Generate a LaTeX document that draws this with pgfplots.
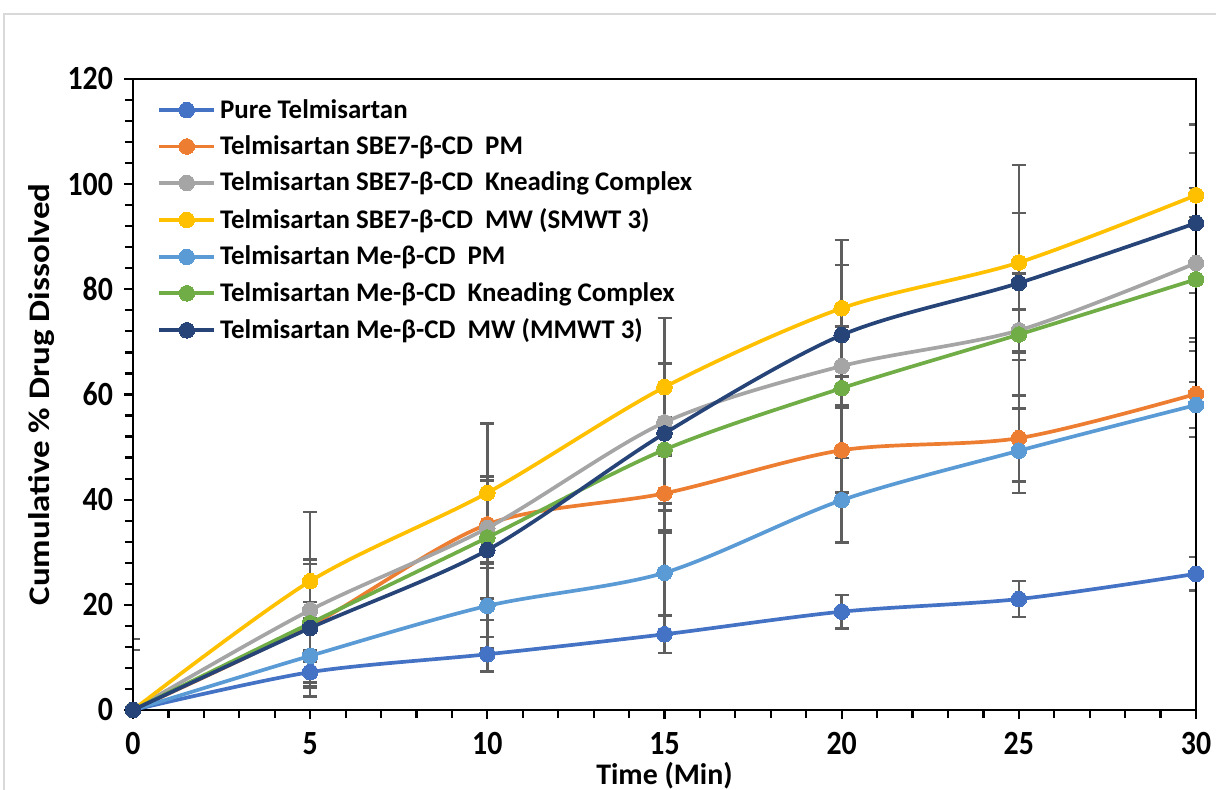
\documentclass[border=0pt]{standalone}
\usepackage{fontspec}
\setmainfont{Carlito}
\newfontfamily\tickfont{Carlito}[FakeStretch=0.88]
\newfontfamily\ylabfont{Carlito}[FakeStretch=1.17]
\usepackage{pgfplots}
\usepackage{pgfplotstable}
\pgfplotsset{compat=1.18}
\definecolor{cBlue}{HTML}{4472C4}
\definecolor{cOrange}{HTML}{ED7D31}
\definecolor{cGrey}{HTML}{A5A5A5}
\definecolor{cYellow}{HTML}{FFC000}
\definecolor{cLBlue}{HTML}{5B9BD5}
\definecolor{cGreen}{HTML}{70AD47}
\definecolor{cNavy}{HTML}{264478}
\definecolor{errgray}{HTML}{5E5E5E}
\definecolor{framegray}{HTML}{D9D9D9}

\pgfplotstableread{
x  y1   e1  y2   e2   y3   e3   y4   e4   y5   e5  y6   e6   y7   e7
0  0    0   0    0    0    11.4 0    13.5 0    0   0    0    0    0
5  7.2  2.0 16.0 11.8 19.0 1.5  24.5 13.2 10.3 5.2 16.5 12.0 15.6 13.0
10 10.6 3.3 35.3 8.3  34.6 1.0  41.3 13.2 19.8 8.1 32.8 11.6 30.4 13.3
15 14.4 3.6 41.2 7.5  54.7 1.0  61.4 13.1 26.1 8.0 49.5 11.6 52.6 13.3
20 18.7 3.2 49.4 8.0  65.4 7.5  76.4 13.0 39.9 8.0 61.2 11.6 71.3 13.3
25 21.1 3.4 51.7 8.2  72.2 4.0  85.1 18.5 49.3 8.0 71.4 11.6 81.2 13.3
30 25.9 3.2 60.1 8.2  85.0 14.3 97.9 13.4 58.0 4.4 81.9 11.9 92.6 13.3
}\data

\pgfplotsset{
  base/.style={at={(0,0)}, anchor=south west,
    scale only axis, width=531.5bp, height=315.5bp,
    xmin=0, xmax=30, ymin=0, ymax=120},
  errplot/.style={draw=none, mark=none,
    error bars/.cd, y dir=both, y explicit,
    error bar style={draw=errgray, line width=1.25bp, solid},
    error mark options={draw=errgray, line width=1.25bp, mark size=3.5bp, rotate=90}},
  ser/.style={color=#1, line width=1.85bp, smooth, tension=0.5, mark=*, mark size=3.9bp,
    mark options={fill=#1, draw=#1, line width=0pt}},
}

\begin{document}
\begin{tikzpicture}
\useasboundingbox (-66.5bp,-40bp) rectangle (541.5bp,355bp);
\draw[framegray, line width=1.2bp] (-64.5bp,-45bp) -- (-64.5bp,348bp) -- (545bp,348bp);
\begin{axis}[base, hide axis, clip=true]
\addplot[errplot] table[x=x, y=y1, y error=e1] {\data};
\addplot[errplot] table[x=x, y=y2, y error=e2] {\data};
\addplot[errplot] table[x=x, y=y3, y error=e3] {\data};
\addplot[errplot] table[x=x, y=y4, y error=e4] {\data};
\addplot[errplot] table[x=x, y=y5, y error=e5] {\data};
\addplot[errplot] table[x=x, y=y6, y error=e6] {\data};
\addplot[errplot] table[x=x, y=y7, y error=e7] {\data};
\end{axis}
\begin{axis}[
  base,
  xtick={0,5,...,30}, ytick={0,20,...,120},
  minor x tick num=4, minor y tick num=4,
  tick align=outside, xtick pos=bottom, ytick pos=left,
  major tick length=4.5bp, minor tick length=4bp,
  every tick/.style={black, line width=1.1bp},
  axis line style={black, line width=1.3bp},
  clip mode=individual,
  /pgf/number format/assume math mode=true,
  tick label style={font=\tickfont\fontsize{17}{20}\selectfont\bfseries},
  yticklabel style={xshift=-2bp},
  xticklabel style={yshift=-3bp},
  label style={font=\fontsize{15}{18}\selectfont\bfseries},
  xlabel={Time (Min)},
  ylabel={\ylabfont\bfseries Cumulative \% Drug Dissolved},
  xlabel style={at={(axis description cs:0.5,0)}, anchor=center, yshift=-33bp},
  ylabel style={at={(axis description cs:0,0.5)}, anchor=center, yshift=45.5bp},
  legend cell align=left,
  legend style={draw=none, fill=none, at={(axis description cs:0.0226,0.975)}, anchor=north west,
    font=\fontsize{13.5}{16}\selectfont\bfseries, row sep=3.3bp, inner sep=0pt,
    /tikz/every even column/.append style={column sep=0pt}},
  legend image code/.code={\draw[mark repeat=2,mark phase=2,#1] plot coordinates {(0bp,0bp) (13.75bp,0bp) (27.5bp,0bp)};},
]
\addplot[ser=cBlue] table[x=x, y=y1] {\data};
\addlegendentry{Pure Telmisartan}
\addplot[ser=cOrange] table[x=x, y=y2] {\data};
\addlegendentry{Telmisartan SBE7-β-CD\ \ PM}
\addplot[ser=cGrey] table[x=x, y=y3] {\data};
\addlegendentry{Telmisartan SBE7-β-CD\ \ Kneading Complex}
\addplot[ser=cYellow] table[x=x, y=y4] {\data};
\addlegendentry{Telmisartan SBE7-β-CD\ \ MW (SMWT 3)}
\addplot[ser=cLBlue] table[x=x, y=y5] {\data};
\addlegendentry{Telmisartan Me-β-CD\ \ PM}
\addplot[ser=cGreen] table[x=x, y=y6] {\data};
\addlegendentry{Telmisartan Me-β-CD\ \ Kneading Complex}
\addplot[ser=cNavy] table[x=x, y=y7] {\data};
\addlegendentry{Telmisartan Me-β-CD\ \ MW (MMWT 3)}
\end{axis}
\end{tikzpicture}
\end{document}
